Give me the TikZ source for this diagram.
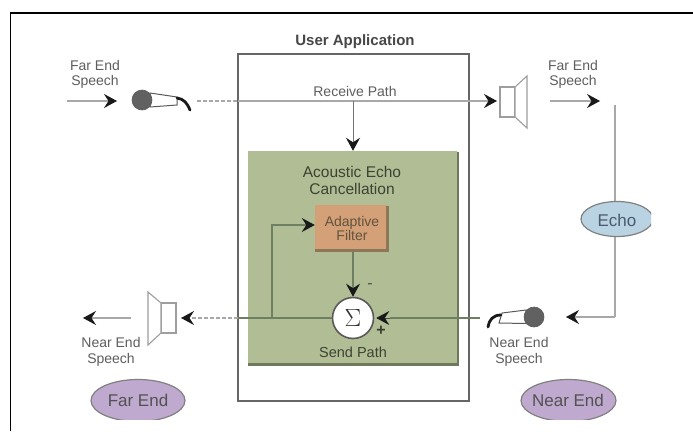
\documentclass[tikz,border=0pt]{standalone}
\usepackage{fontspec}
\setmainfont{Liberation Sans}
\usetikzlibrary{arrows.meta,calc,shapes.geometric}
\definecolor{wire}{HTML}{A8A8A8}
\definecolor{wirein}{HTML}{6F7F62}
\definecolor{labelc}{HTML}{5E5E5E}
\definecolor{greenbox}{HTML}{B1BD95}
\definecolor{greenshade}{HTML}{6F7A5C}
\definecolor{filterc}{HTML}{D3A077}
\definecolor{filtershade}{HTML}{8E7658}
\definecolor{echoc}{HTML}{B9D3E2}
\definecolor{echotext}{HTML}{4A5A70}
\definecolor{ovalc}{HTML}{BFA9CF}
\tikzset{
  x=1pt,y=-1pt,
  lbl/.style={font=\fontsize{14}{15.5}\selectfont,text=labelc,align=center,inner sep=0pt},
  tip/.style={-{Stealth[length=13pt,width=14pt,inset=4.5pt,color=black!90]}},
  wireline/.style={draw=wire,line width=1.3pt},
  dashline/.style={draw=wire,line width=1.3pt,dash pattern=on 4pt off 2pt},
  innerline/.style={draw=wirein,line width=1.1pt},
  oval/.style={ellipse,draw=black!50,line width=1.2pt,inner sep=0pt},
  spk/.style={draw=black!38,line width=1.1pt,fill=white},
  micbody/.style={draw=black!65,line width=1pt,fill=white},
  machead/.style={draw=black!65,fill=black!62,line width=.6pt},
  handle/.style={draw=black!90,line width=2.8pt,line cap=round},
}
\begin{document}
\begin{tikzpicture}
\useasboundingbox (0,0) rectangle (693,431);
\fill[white] (0,0) rectangle (693,431);
% outer frame
\draw[black,line width=1.6pt] (10.5,431) -- (10.5,13) -- (693,13);
% user application frame
\node[draw=black!60,line width=2.6pt,fill=white,minimum width=231pt,minimum height=347pt,inner sep=0pt] (app) at (353.5,227.5) {};
\node[lbl,font=\fontsize{15}{17}\selectfont\bfseries,text=black!72] (apptitle) at (355,42) {User Application};
% acoustic echo box
\node[fill=greenshade,minimum width=211pt,minimum height=214pt,inner sep=0pt] (aecshade) at (353.5,258.5) {};
\node[fill=greenbox,minimum width=209pt,minimum height=212pt,inner sep=0pt] (aec) at (352,257) {};
\node[lbl,font=\fontsize{15.5}{17.5}\selectfont,text=black!45!greenshade] (aectitle) at (352,180.5) {Acoustic Echo\\Cancellation};
% adaptive filter
\node[fill=filtershade,minimum width=74pt,minimum height=46pt,inner sep=0pt] (filtshade) at (352,228.5) {};
\node[fill=filterc,minimum width=71pt,minimum height=44pt,inner sep=0pt] (filt) at (350.5,227) {};
\node[lbl,font=\fontsize{14}{14}\selectfont,text=black!30!filtershade] (filttext) at (352,228) {Adaptive\\Filter};
% sum
\node[circle,draw=black!65,line width=1.6pt,fill=white,minimum size=41pt,inner sep=0pt,font=\fontsize{30}{30}\selectfont,text=black!80] (sum) at (353,318) {$\Sigma$};
\node[lbl,font=\fontsize{14.5}{16}\selectfont,text=black!45!greenshade] (send) at (353,352) {Send Path};
\node[lbl,font=\fontsize{16}{16}\selectfont,text=black!70] (minus) at (370,286) {-};
\node[lbl,text=black!50!greenshade,font=\fontsize{16}{16}\selectfont\bfseries] (plus) at (381,331) {+};
% labels
\node[lbl] (fesL) at (95,74.5) {Far End\\Speech};
\node[lbl] (fesR) at (573,74.5) {Far End\\Speech};
\node[lbl] (nesL) at (111,352) {Near End\\Speech};
\node[lbl] (nesR) at (519,352) {Near End\\Speech};
\node[lbl] (recv) at (355,91) {Receive Path};
% coordinates
\coordinate (a1) at (67,101);
\coordinate (a1t) at (117,101);
\coordinate (recvS) at (197,101);
\coordinate (recvE) at (238,101);
\coordinate (recvJ) at (353,101);
\coordinate (spkRin) at (497,101);
\coordinate (a2) at (550,101);
\coordinate (a2t) at (600,101);
\coordinate (echoTop) at (615,105);
\coordinate (corner) at (615,317);
\coordinate (nearT) at (566,317);
\coordinate (dashR) at (480,318);
\coordinate (sumIn) at (390,318);
\coordinate (appL) at (238,318);
\coordinate (branch) at (272,318);
\coordinate (branchUp) at (272,225);
\coordinate (spkLin) at (181,318);
\coordinate (a3s) at (131,318);
\coordinate (a3t) at (83,318);
% connectors
\draw[wireline,tip] (a1) -- (a1t);
\draw[dashline] (recvS) -- (recvE);
\draw[wireline,tip] (recvE) -- (spkRin);
\draw[wireline,tip] (a2) -- (a2t);
\draw[draw=black!55,line width=1pt,tip] (recvJ) -- (aec.north -| recvJ);
\draw[innerline,tip] (filtshade.south -| sum) -- (sum.north);
\draw[innerline] (dashR) -- (sumIn);
\draw[draw=black!70,line width=.8pt,tip] (sumIn) -- ($(sum.east)+(2,0)$);
\draw[innerline] (sum.west) -- (appL);
\draw[dashline,tip] (appL) -- (spkLin);
\draw[innerline,tip] (branch) -- (branchUp) -- (filt.west |- branchUp);
\draw[wireline,tip] (a3s) -- (a3t);
\draw[wireline] (echoTop) -- (corner);
\draw[wireline,tip] (corner) -- (nearT);
% echo oval
\begin{scope}
\clip (570,190) rectangle (651,245);
\node[oval,fill=echoc,minimum width=72pt,minimum height=35pt] (echo) at (617,219) {};
\end{scope}
\node[lbl,text=echotext,font=\fontsize{17}{17}\selectfont] (echot) at (617,220.5) {Echo};
% far and near end ovals
\begin{scope}
\clip (80,370) rectangle (640,419);
\node[oval,fill=ovalc,minimum width=94pt,minimum height=42pt] (farov) at (138,400.5) {};
\node[oval,fill=ovalc,minimum width=95pt,minimum height=42pt] (nearov) at (568.5,400.5) {};
\end{scope}
\node[lbl,font=\fontsize{17}{17}\selectfont,text=black!68] (fart) at (138,400) {Far End};
\node[lbl,font=\fontsize{17}{17}\selectfont,text=black!68] (neart) at (568,400) {Near End};
% left microphone
\draw[micbody] (150,93) -- (177,97) -- (177,105) -- (150,107) -- cycle;
\draw[handle] (177,98) .. controls (184,99) and (187,103) .. (190,110);
\fill[machead] (142,100) circle (10);
% right microphone
\draw[micbody] (526,310) -- (502,313) -- (499,323) -- (526,323.5) -- cycle;
\draw[handle] (501,315) .. controls (493,315) and (489,320) .. (488,327);
\fill[machead] (534,317) circle (10);
% right speaker
\draw[spk] (500,87) rectangle (515,117);
\draw[spk] (515,87) -- (527,76) -- (527,128) -- (515,117) -- cycle;
% left speaker
\draw[spk] (161,303) rectangle (176,333);
\draw[spk] (161,303) -- (148,292) -- (148,345) -- (161,333) -- cycle;
\end{tikzpicture}
\end{document}
